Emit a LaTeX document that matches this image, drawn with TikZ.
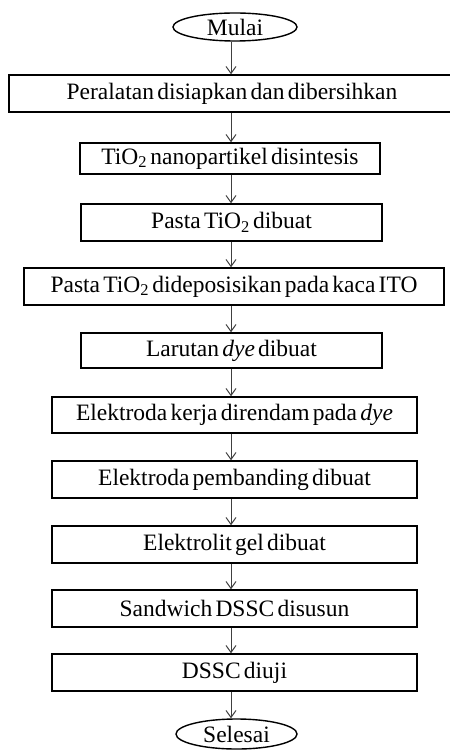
\documentclass[tikz,border=0pt]{standalone}
\usepackage{fontspec}
\setmainfont{Liberation Serif}[WordSpace=0.55]
\usetikzlibrary{shapes.geometric,arrows.meta}
\tikzset{
  stepbox/.style={draw=black, line width=1.4pt, rectangle, inner sep=0pt, align=center,
    font=\fontsize{23.5}{26}\selectfont},
  terminal/.style={draw=black, line width=1.4pt, ellipse, inner sep=0pt,
    font=\fontsize{23.5}{26}\selectfont},
  flow/.style={draw=black!75, line width=1pt, -{Straight Barb[length=7pt,width=10pt,line width=1pt]}}
}
\begin{document}
\begin{tikzpicture}[x=1pt,y=-1pt]
\useasboundingbox (0,0) rectangle (449,751);
\coordinate (ax) at (231,0);
\node[terminal, minimum width=124pt, minimum height=28pt] (mulai) at (235,27) {Mulai};
\node[stepbox, minimum width=446pt, minimum height=37pt] (b1) at (232,93.5) {Peralatan disiapkan dan dibersihkan};
\node[stepbox, minimum width=300pt, minimum height=31pt] (b2) at (230,158.5) {TiO\textsubscript{2} nanopartikel disintesis};
\node[stepbox, minimum width=301pt, minimum height=37pt] (b3) at (231.5,222.5) {Pasta TiO\textsubscript{2} dibuat};
\node[stepbox, minimum width=420pt, minimum height=37pt] (b4) at (234,286.5) {Pasta TiO\textsubscript{2} dideposisikan pada kaca ITO};
\node[stepbox, minimum width=301pt, minimum height=35pt] (b5) at (231.5,350.5) {Larutan \textit{dye} dibuat};
\node[stepbox, minimum width=365pt, minimum height=36pt] (b6) at (234.5,415) {Elektroda kerja direndam pada \textit{dye}};
\node[stepbox, minimum width=365pt, minimum height=37pt] (b7) at (234.5,479.5) {Elektroda pembanding dibuat};
\node[stepbox, minimum width=365pt, minimum height=37pt] (b8) at (234.5,544.5) {Elektrolit gel dibuat};
\node[stepbox, minimum width=365pt, minimum height=37pt] (b9) at (234.5,608.5) {Sandwich DSSC disusun};
\node[stepbox, minimum width=365pt, minimum height=37pt] (b10) at (234.5,672.5) {DSSC diuji};
\node[terminal, minimum width=121pt, minimum height=30pt] (selesai) at (236.5,734) {Selesai};
\foreach \a/\b in {mulai/b1,b1/b2,b2/b3,b3/b4,b4/b5,b5/b6,b6/b7,b7/b8,b8/b9,b9/b10,b10/selesai}
  \draw[flow] (\a.south -| ax) -- (\b.north -| ax);
\end{tikzpicture}
\end{document}
